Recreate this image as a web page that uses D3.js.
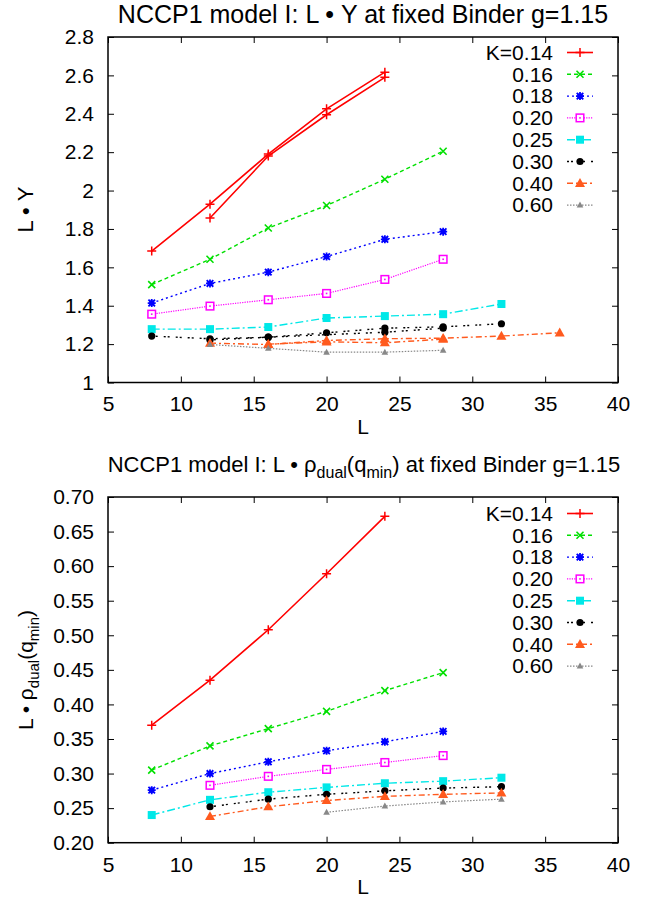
<!DOCTYPE html>
<html><head><meta charset="utf-8">
<script src="https://cdn.jsdelivr.net/npm/d3@7"></script>
<style>
html,body{margin:0;padding:0;background:#fff;}
svg{display:block;font-family:"Liberation Sans",Arial,sans-serif;}
</style></head>
<body>
<svg id="c" width="667" height="899"></svg>
<script>
// ---------- data ----------
const legendLabels = ["K=0.14","0.16","0.18","0.20","0.25","0.30","0.40","0.60"];
const xTicks = [5,10,15,20,25,30,35,40];
const topYTicks = [1,1.2,1.4,1.6,1.8,2,2.2,2.4,2.6,2.8];
const botYTicks = [0.20,0.25,0.30,0.35,0.40,0.45,0.50,0.55,0.60,0.65,0.70];

// top panel: L * Upsilon  ([L, value])
const top014a = [[8,1.685],[12,1.929],[16,2.19],[20,2.426],[24,2.617]];
const top014b = [[12,1.857],[16,2.18],[20,2.395],[24,2.59]];
const top016 = [[8,1.51],[12,1.642],[16,1.805],[20,1.922],[24,2.059],[28,2.205]];
const top018 = [[8,1.414],[12,1.516],[16,1.575],[20,1.656],[24,1.746],[28,1.786]];
const top020 = [[8,1.356],[12,1.398],[16,1.431],[20,1.464],[24,1.537],[28,1.642]];
const top025 = [[8,1.278],[12,1.278],[16,1.289],[20,1.336],[24,1.346],[28,1.356],[32,1.409]];
const top030a = [[8,1.242],[12,1.228],[16,1.236],[20,1.259],[24,1.283],[28,1.29],[32,1.306]];
const top030b = [[12,1.222],[16,1.236],[24,1.262],[28,1.283]];
const top040a = [[12,1.205],[16,1.198],[20,1.219],[24,1.228],[28,1.231],[32,1.242],[36,1.259]];
const top040b = [[16,1.2],[20,1.212],[24,1.207],[28,1.226]];
const top060 = [[12,1.198],[16,1.178],[20,1.158],[24,1.158],[28,1.168]];

// bottom panel: L * rho_dual(q_min)
const bot014 = [[8,0.370],[12,0.435],[16,0.508],[20,0.589],[24,0.672]];
const bot016 = [[8,0.305],[12,0.340],[16,0.365],[20,0.390],[24,0.420],[28,0.446]];
const bot018 = [[8,0.276],[12,0.300],[16,0.317],[20,0.333],[24,0.346],[28,0.361]];
const bot020 = [[12,0.283],[16,0.296],[20,0.306],[24,0.316],[28,0.326]];
const bot025 = [[8,0.240],[12,0.262],[16,0.273],[20,0.280],[24,0.286],[28,0.289],[32,0.294]];
const bot030 = [[12,0.252],[16,0.263],[20,0.270],[24,0.275],[28,0.279],[32,0.281]];
const bot040 = [[12,0.238],[16,0.252],[20,0.261],[24,0.267],[28,0.270],[32,0.272]];
const bot060 = [[20,0.244],[24,0.253],[28,0.259],[32,0.263]];

// ---------- styles ----------
const styles = [
  {color:"#ff0000", dash:null,        width:1.6, marker:"plus"},
  {color:"#00e000", dash:"4,3",       width:1.4, marker:"x"},
  {color:"#0000ff", dash:"2,3",       width:1.4, marker:"star"},
  {color:"#ff00ff", dash:"1.2,1.2",   width:1.2, marker:"boxdot"},
  {color:"#00e8e8", dash:"8,3,2,3",   width:1.4, marker:"box"},
  {color:"#000000", dash:"2,2,2,6",   width:1.4, marker:"circle"},
  {color:"#ff5a1e", dash:"6,3,2,3",   width:1.4, marker:"tri"},
  {color:"#888888", dash:"1.5,1.5",   width:1.2, marker:"smalltri"}
];

const svg = d3.select("#c");
const FS = 21;

function drawMarker(g, type, color, cx, cy){
  const m = g.append("g").attr("transform",`translate(${cx},${cy})`);
  if(type==="plus"){
    m.append("path").attr("d","M-4.5,0H4.5M0,-4.5V4.5").attr("stroke",color).attr("stroke-width",1.5).attr("fill","none");
  } else if(type==="x"){
    m.append("path").attr("d","M-3.5,-3.5L3.5,3.5M-3.5,3.5L3.5,-3.5").attr("stroke",color).attr("stroke-width",1.6).attr("fill","none");
  } else if(type==="star"){
    m.append("path").attr("d","M-4,0H4M0,-4V4M-3.3,-3.3L3.3,3.3M-3.3,3.3L3.3,-3.3").attr("stroke",color).attr("stroke-width",1.8).attr("fill","none");
    m.append("rect").attr("x",-2.5).attr("y",-2.5).attr("width",5).attr("height",5).attr("fill",color);
  } else if(type==="boxdot"){
    m.append("rect").attr("x",-3.8).attr("y",-3.8).attr("width",7.6).attr("height",7.6).attr("fill","#fff").attr("stroke",color).attr("stroke-width",1.5);
    m.append("rect").attr("x",-0.8).attr("y",-0.8).attr("width",1.6).attr("height",1.6).attr("fill",color);
  } else if(type==="box"){
    m.append("rect").attr("x",-4).attr("y",-4).attr("width",8).attr("height",8).attr("fill",color);
  } else if(type==="circle"){
    m.append("circle").attr("r",3.6).attr("fill",color);
  } else if(type==="tri"){
    m.append("path").attr("d","M0,-5.2L5,3.6H-5Z").attr("fill",color);
  } else if(type==="smalltri"){
    m.append("path").attr("d","M0,-3.5L3.3,2.5H-3.3Z").attr("fill",color);
  }
}

function panel(opt){
  const x = d3.scaleLinear().domain([5,40]).range([opt.left,opt.right]);
  const y = d3.scaleLinear().domain(opt.yDomain).range([opt.bottom,opt.top]);
  const g = svg.append("g");

  // axes with inward ticks
  const axL = d3.axisLeft(y).tickValues(opt.yTicks).tickFormat(opt.yFmt).tickSize(-6).tickPadding(14);
  const axR = d3.axisRight(y).tickValues(opt.yTicks).tickFormat("").tickSize(-6);
  const axB = d3.axisBottom(x).tickValues(xTicks).tickFormat(d3.format("d")).tickSize(-6).tickPadding(14);
  const axT = d3.axisTop(x).tickValues(xTicks).tickFormat("").tickSize(-6);
  const gl = g.append("g").attr("transform",`translate(${opt.left},0)`).call(axL);
  const gr = g.append("g").attr("transform",`translate(${opt.right},0)`).call(axR);
  const gb = g.append("g").attr("transform",`translate(0,${opt.bottom})`).call(axB);
  const gt = g.append("g").attr("transform",`translate(0,${opt.top})`).call(axT);
  [gl,gr,gb,gt].forEach(a=>{
    a.selectAll(".domain").remove();
    a.selectAll("line").attr("stroke","#000").attr("stroke-width",1);
    a.selectAll("text").attr("font-size",FS).attr("font-family","'Liberation Sans',Arial,sans-serif").attr("fill","#000");
  });
  // frame
  g.append("rect").attr("x",opt.left).attr("y",opt.top)
    .attr("width",opt.right-opt.left).attr("height",opt.bottom-opt.top)
    .attr("fill","none").attr("stroke","#000").attr("stroke-width",1.5);

  // series
  const line = d3.line().x(d=>x(d[0])).y(d=>y(d[1]));
  opt.series.forEach(s=>{
    const st = styles[s.style];
    g.append("path").datum(s.data).attr("d",line).attr("fill","none")
      .attr("stroke",st.color).attr("stroke-width",st.width)
      .attr("stroke-dasharray",st.dash);
    s.data.forEach(d=>drawMarker(g,st.marker,st.color,x(d[0]),y(d[1])));
  });

  // legend
  const ly0 = opt.top + opt.legendTop, lstep = 21.8;
  legendLabels.forEach((lab,i)=>{
    const st = styles[i];
    const yy = ly0 + i*lstep;
    g.append("text").attr("x",opt.right-65).attr("y",yy).attr("dy","0.35em")
      .attr("text-anchor","end").attr("font-size",FS).text(lab);
    g.append("path").attr("d",`M${opt.right-51},${yy}H${opt.right-25}`)
      .attr("stroke",st.color).attr("stroke-width",st.width).attr("stroke-dasharray",st.dash).attr("fill","none");
    drawMarker(g,st.marker,st.color,opt.right-38,yy);
  });

  // x label
  g.append("text").attr("x",(opt.left+opt.right)/2).attr("y",opt.bottom+51)
    .attr("text-anchor","middle").attr("font-size",FS).text("L");
  return g;
}

// ---------- top panel ----------
const topPanel = panel({
  left:108, right:618, top:37, bottom:382.5,
  yDomain:[1,2.8], yTicks:topYTicks, yFmt:d3.format("~g"),
  legendTop:15.5,
  series:[
    {data:top014a,style:0},{data:top014b,style:0},
    {data:top016,style:1},{data:top018,style:2},{data:top020,style:3},
    {data:top025,style:4},{data:top030a,style:5},{data:top030b,style:5},
    {data:top040a,style:6},{data:top040b,style:6},{data:top060,style:7}
  ]
});
svg.append("text").attr("x",363).attr("y",23).attr("text-anchor","middle").attr("font-size",25)
  .text("NCCP1 model I: L \u2022 \u03A5 at fixed Binder g=1.15");
svg.append("text").attr("transform","translate(33,209.5) rotate(-90)")
  .attr("text-anchor","middle").attr("font-size",22).text("L \u2022 \u03A5");

// ---------- bottom panel ----------
const botPanel = panel({
  left:108, right:618, top:497, bottom:842.7,
  yDomain:[0.2,0.7], yTicks:botYTicks, yFmt:d3.format(".2f"),
  legendTop:16.5,
  series:[
    {data:bot014,style:0},{data:bot016,style:1},{data:bot018,style:2},{data:bot020,style:3},
    {data:bot025,style:4},{data:bot030,style:5},{data:bot040,style:6},{data:bot060,style:7}
  ]
});
const t2 = svg.append("text").attr("x",364).attr("y",472).attr("text-anchor","middle").attr("font-size",22);
t2.append("tspan").text("NCCP1 model I: L \u2022 \u03C1");
t2.append("tspan").attr("dy",6).attr("font-size",16).text("dual");
t2.append("tspan").attr("dy",-6).text("(q");
t2.append("tspan").attr("dy",6).attr("font-size",16).text("min");
t2.append("tspan").attr("dy",-6).text(") at fixed Binder g=1.15");

const yl2 = svg.append("text").attr("transform","translate(33,670) rotate(-90)")
  .attr("text-anchor","middle").attr("font-size",FS);
yl2.append("tspan").text("L \u2022 \u03C1");
yl2.append("tspan").attr("dy",6).attr("font-size",15).text("dual");
yl2.append("tspan").attr("dy",-6).text("(q");
yl2.append("tspan").attr("dy",6).attr("font-size",15).text("min");
yl2.append("tspan").attr("dy",-6).text(")");
</script>
</body></html>
